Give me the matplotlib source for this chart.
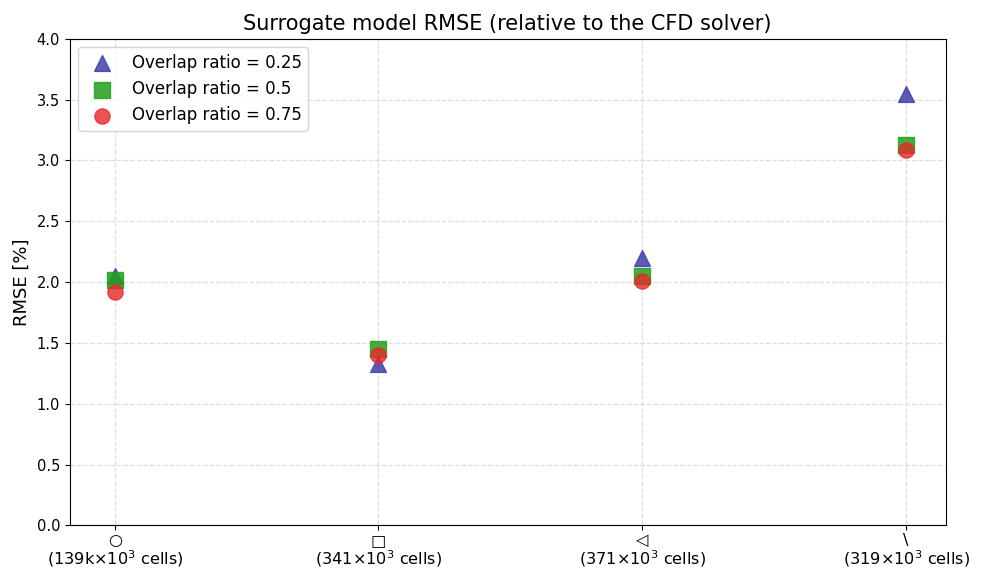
import numpy as np
import matplotlib.pyplot as plt

# mesh labels (symbol + cell count)
labels = ["○\n(139k×10$^3$ cells)", "□\n(341×10$^3$ cells)",
          "◁\n(371×10$^3$ cells)", "\\\n(319×10$^3$ cells)"]
rmse_025 = [2.05, 1.33, 2.20, 3.55]
rmse_05 = [2.02, 1.45, 2.05, 3.13]
rmse_075 = [1.92, 1.40, 2.01, 3.09]

x = np.arange(len(labels))

fig, ax = plt.subplots(figsize=(9.84, 5.71), dpi=100)
ax.scatter(x, rmse_025, marker="^", s=130, color="#3f3fa8", alpha=0.85,
           label="Overlap ratio = 0.25", zorder=3)
ax.scatter(x, rmse_05, marker="s", s=120, color="#22a01c", alpha=0.85,
           label="Overlap ratio = 0.5", zorder=3)
ax.scatter(x, rmse_075, marker="o", s=120, color="#e82828", alpha=0.8,
           label="Overlap ratio = 0.75", zorder=3)

ax.set_xticks(x)
ax.set_xticklabels(labels, fontsize=11.6, linespacing=1.05)
ax.tick_params(axis="x", pad=2)
ax.set_xlim(-0.17, 3.15)
ax.set_ylim(0, 4.0)
ax.set_yticks(np.arange(0, 4.01, 0.5))
ax.tick_params(axis="y", labelsize=10.5)
ax.set_ylabel("RMSE [%]", fontsize=13)
ax.set_title("Surrogate model RMSE (relative to the CFD solver)", fontsize=15)
ax.grid(True, linestyle="--", color="#dddddd", linewidth=0.9)
ax.legend(loc="upper left", fontsize=12)

fig.subplots_adjust(left=0.071, right=0.961, top=0.932, bottom=0.08)
fig.savefig("out.png")
